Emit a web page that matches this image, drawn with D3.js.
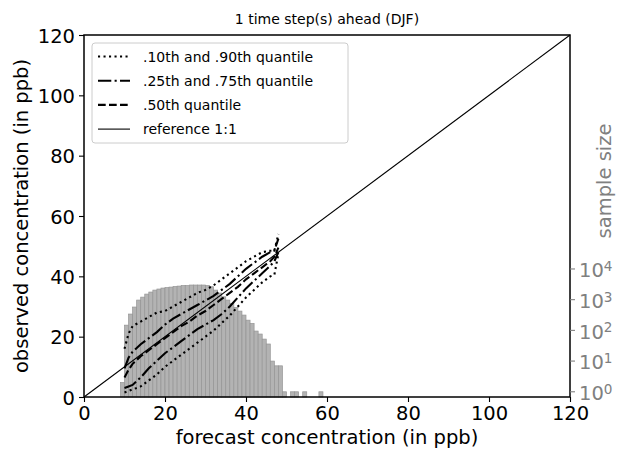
<!DOCTYPE html>
<html lang="en">
<head>
	<meta charset="UTF-8"/>
	<title>Conditional quantile plot</title>
	<script src="https://d3js.org/d3.v7.min.js"></script>
	<style>
		body { margin: 0; background: #fff; }
		text { font-family: "DejaVu Sans", sans-serif; }
		.q { fill: none; stroke: #000; stroke-width: 2.1; }
	</style>
</head>
<body>
	<div id="chart"></div>
	<script>
	// forecast bins (left edge) and number of samples in each
	var histBins   = [9,10,11,12,13,14,15,16,17,18,19,20,21,22,23,24,25,26,27,28,29,30,31,32,33,34,35,36,37,38,39,40,41,42,43,44,45,46,47,48,49,51,52,54,58];
	var histCounts = [2,148,340,575,970,1210,1520,1770,2050,2220,2390,2470,2570,2680,2770,2880,2880,3000,3000,3000,3000,2880,2640,2050,1640,1240,970,760,560,425,315,215,168,95,76,52,36,10,7,7,1,1,1,1,1];

	// quantiles of observed vs forecast
	var qx   = [10, 11, 12, 14, 16, 18, 20, 22, 24, 26, 28, 30, 32, 34, 36, 38, 40, 42, 44, 46, 47, 48];
	var q10  = [1.5, 2.0, 2.5, 3.5, 5.5, 7.5, 10, 12, 14, 16, 18, 20, 22, 24.5, 27, 30, 33, 35.5, 38, 40, 40.5, 47.5];
	var q25  = [3.0, 3.5, 4.0, 6.5, 9.5, 12, 14.5, 16.5, 18.5, 20.5, 22.5, 24, 25.5, 27.5, 30, 33, 36, 38.5, 41, 43.5, 45, 48];
	var q50  = [6.5, 9, 11, 13.5, 15.5, 17.5, 19.5, 21.5, 23.5, 25, 27, 28.5, 30.5, 32.5, 34.5, 36.5, 39, 41, 43, 45, 46.5, 49.5];
	var q75  = [9.5, 13, 15, 17.5, 19.5, 21.5, 24, 26, 27.5, 29, 30.5, 32, 33.5, 35.5, 37.5, 40, 42.5, 44.5, 46.5, 48, 48.5, 52.5];
	var q90  = [16, 21, 23.5, 25, 26.5, 28, 28.5, 30, 31.5, 33, 34.5, 35.5, 37, 39, 41, 43, 45, 46.5, 48, 48.5, 48.5, 54];

	var xTicks = [0, 20, 40, 60, 80, 100, 120];
	var yTicks = [0, 20, 40, 60, 80, 100, 120];
	var nTicks = [0, 1, 2, 3, 4];   // exponents of the sample size axis

	var w = 619, h = 452;
	var padL = 84, padR = 570, padT = 35, padB = 397;

	var svg = d3.select("#chart").append("svg")
		.attr("width", w)
		.attr("height", h);

	var xScale = d3.scaleLinear().domain([0, 120]).range([padL, padR]);
	var yScale = d3.scaleLinear().domain([0, 120]).range([padB, padT]);
	var nScale = d3.scaleLog()
		.domain([Math.pow(10, -0.17), Math.pow(10, 11.62)])
		.range([padB, padT]);

	// histogram of sample size
	svg.append("g").selectAll("rect")
		.data(histBins)
		.enter()
		.append("rect")
		.attr("x", function(d){ return xScale(d); })
		.attr("width", function(d){ return xScale(d + 1) - xScale(d); })
		.attr("y", function(d, i){ return nScale(histCounts[i]); })
		.attr("height", function(d, i){ return padB - nScale(histCounts[i]); })
		.attr("fill", "#b3b3b3")
		.attr("stroke", "#959595")
		.attr("stroke-width", 0.7);

	// 1:1 reference
	svg.append("line")
		.attr("x1", xScale(0)).attr("y1", yScale(0))
		.attr("x2", xScale(120)).attr("y2", yScale(120))
		.attr("stroke", "#000")
		.attr("stroke-width", 1.1);

	var line = d3.line()
		.x(function(d){ return xScale(d[0]); })
		.y(function(d){ return yScale(d[1]); });

	var dotted = "2.1,3.4", dashdot = "13.3,3.3,2.1,3.3", dashed = "7.7,3.3";
	var curves = [[q10, dotted], [q90, dotted], [q25, dashdot], [q75, dashdot], [q50, dashed]];
	curves.forEach(function(c){
		svg.append("path")
			.datum(qx.map(function(x, i){ return [x, c[0][i]]; }))
			.attr("class", "q")
			.attr("stroke-dasharray", c[1])
			.attr("d", line);
	});

	// frame
	svg.append("rect")
		.attr("x", padL).attr("y", padT)
		.attr("width", padR - padL).attr("height", padB - padT)
		.attr("fill", "none")
		.attr("stroke", "#000")
		.attr("stroke-width", 1.5);

	var xAxis = d3.axisBottom(xScale).tickValues(xTicks).tickSize(5).tickPadding(4);
	var yAxis = d3.axisLeft(yScale).tickValues(yTicks).tickSize(5).tickPadding(4);

	var gx = svg.append("g")
		.attr("transform", "translate(0," + padB + ")")
		.call(xAxis);
	var gy = svg.append("g")
		.attr("transform", "translate(" + padL + ",0)")
		.call(yAxis);
	[gx, gy].forEach(function(g){
		g.select(".domain").remove();
		g.selectAll("text").attr("font-size", 19.5).attr("fill", "#000")
			.attr("font-family", "DejaVu Sans");
		g.selectAll("line").attr("stroke", "#000").attr("stroke-width", 1.1);
	});
	gy.selectAll("text").attr("dy", "0.36em");

	// sample size axis on the right
	var gr = svg.append("g").attr("transform", "translate(" + padR + ",0)");
	var rt = gr.selectAll("g")
		.data(nTicks)
		.enter()
		.append("g")
		.attr("transform", function(d){ return "translate(0," + nScale(Math.pow(10, d)) + ")"; });
	rt.append("line").attr("x2", 5).attr("stroke", "#808080").attr("stroke-width", 1.1);
	var rlab = rt.append("text")
		.attr("x", 9).attr("dy", "0.42em")
		.attr("fill", "#808080")
		.attr("font-size", 19.5);
	rlab.append("tspan").text("10");
	rlab.append("tspan").attr("dy", "-0.45em").attr("font-size", 13.6)
		.text(function(d){ return d; });

	// titles and labels
	svg.append("text")
		.attr("x", (padL + padR) / 2).attr("y", 24)
		.attr("text-anchor", "middle")
		.attr("font-size", 14)
		.text("1 time step(s) ahead (DJF)");
	svg.append("text")
		.attr("x", (padL + padR) / 2).attr("y", 444)
		.attr("text-anchor", "middle")
		.attr("font-size", 19.5)
		.text("forecast concentration (in ppb)");
	svg.append("text")
		.attr("transform", "translate(28," + (padT + padB) / 2 + ") rotate(-90)")
		.attr("text-anchor", "middle")
		.attr("font-size", 19.5)
		.text("observed concentration (in ppb)");
	svg.append("text")
		.attr("transform", "translate(611,181) rotate(-90)")
		.attr("text-anchor", "middle")
		.attr("font-size", 19.5)
		.attr("fill", "#808080")
		.text("sample size");

	// legend
	var legendItems = [
		{ label: ".10th and .90th quantile", dash: dotted, width: 2.1 },
		{ label: ".25th and .75th quantile", dash: dashdot, width: 2.1 },
		{ label: ".50th quantile", dash: dashed, width: 2.1 },
		{ label: "reference 1:1", dash: null, width: 1.1 }
	];
	var lg = svg.append("g").attr("transform", "translate(92,43)");
	lg.append("rect")
		.attr("width", 256).attr("height", 100)
		.attr("rx", 3)
		.attr("fill", "#fff").attr("fill-opacity", 0.8)
		.attr("stroke", "#cccccc");
	var li = lg.selectAll("g.item")
		.data(legendItems)
		.enter()
		.append("g")
		.attr("class", "item")
		.attr("transform", function(d, i){ return "translate(0," + (13.5 + i * 24.2) + ")"; });
	li.append("line")
		.attr("x1", 6).attr("x2", 38)
		.attr("stroke", "#000")
		.attr("stroke-width", function(d){ return d.width; })
		.attr("stroke-dasharray", function(d){ return d.dash; });
	li.append("text")
		.attr("x", 51).attr("dy", "0.36em")
		.attr("font-size", 14)
		.text(function(d){ return d.label; });
	</script>
</body>
</html>
